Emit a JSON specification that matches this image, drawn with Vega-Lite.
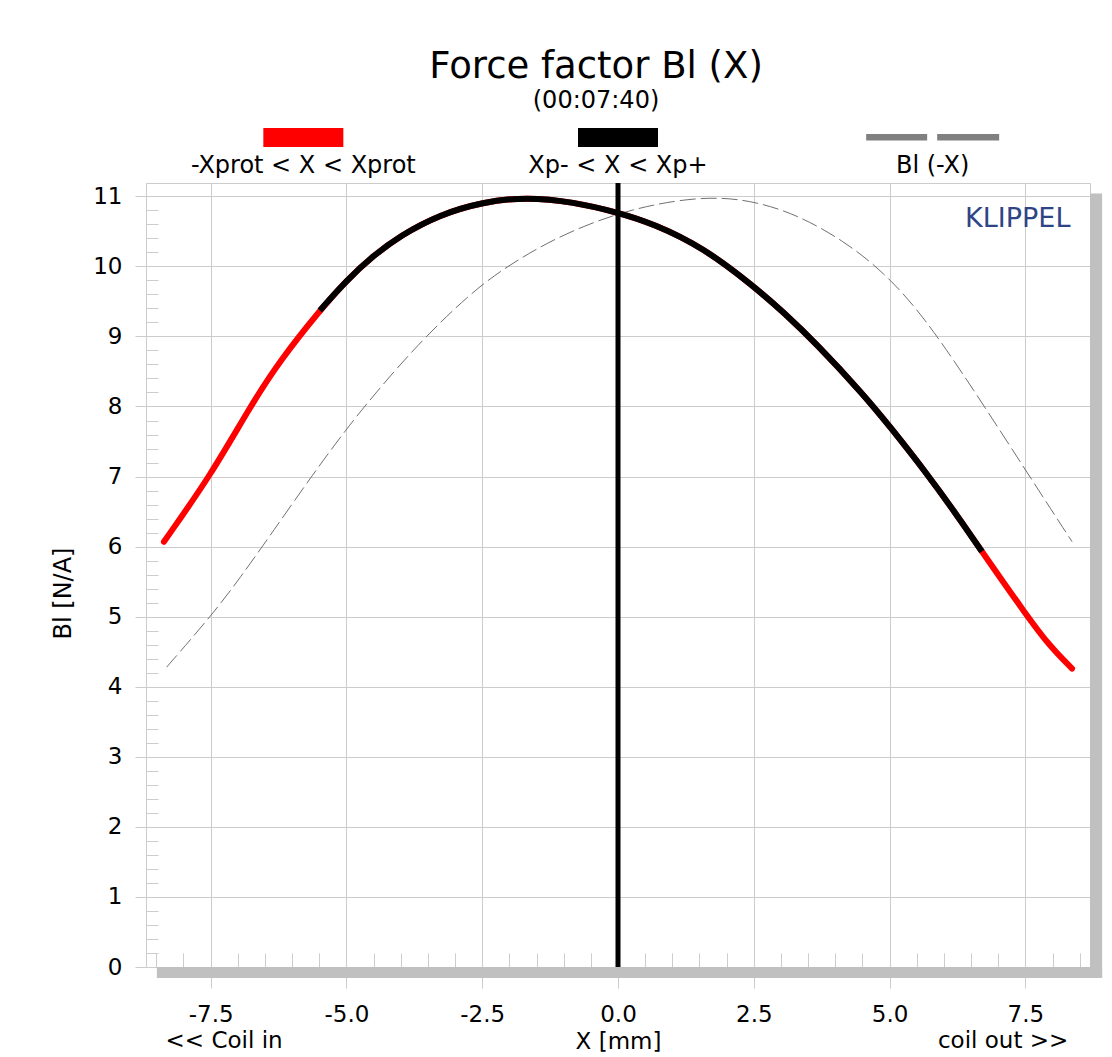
{
  "$schema": "https://vega.github.io/schema/vega-lite/v6.json",
  "autosize": {"type": "none"},
  "width": 944,
  "height": 784,
  "padding": {"left": 146, "top": 183, "right": 22, "bottom": 90},
  "background": "white",
  "title": {
    "text": "Force factor Bl (X)",
    "subtitle": "(00:07:40)",
    "frame": "group",
    "anchor": "middle",
    "dx": -22,
    "offset": 14,
    "font": "DejaVu Sans",
    "subtitleFont": "DejaVu Sans",
    "fontSize": 37,
    "subtitleFontSize": 24,
    "fontWeight": "normal",
    "color": "#000000",
    "subtitleColor": "#000000",
    "subtitlePadding": 3
  },
  "config": {
    "font": "DejaVu Sans",
    "view": {"stroke": "#cccccc", "strokeWidth": 1},
    "axis": {
      "gridColor": "#cccccc",
      "gridWidth": 1,
      "tickColor": "#cccccc",
      "tickWidth": 1,
      "domain": false,
      "labelColor": "#000000",
      "titleColor": "#000000",
      "labelFont": "DejaVu Sans",
      "titleFont": "DejaVu Sans",
      "titleFontWeight": "normal"
    }
  },
  "datasets": {
    "bl": [
      {"x": -8.36, "bl": 6.07}, {"x": -7.48, "bl": 7.04}, {"x": -6.78, "bl": 7.99},
      {"x": -6.22, "bl": 8.66}, {"x": -5.49, "bl": 9.37}, {"x": -5.0, "bl": 9.80},
      {"x": -4.51, "bl": 10.15}, {"x": -4.01, "bl": 10.44}, {"x": -3.28, "bl": 10.74},
      {"x": -2.49, "bl": 10.92}, {"x": -1.68, "bl": 10.99}, {"x": -0.82, "bl": 10.92},
      {"x": 0.0, "bl": 10.77}, {"x": 0.65, "bl": 10.61}, {"x": 1.57, "bl": 10.27},
      {"x": 2.51, "bl": 9.71}, {"x": 3.04, "bl": 9.35}, {"x": 3.66, "bl": 8.89},
      {"x": 4.52, "bl": 8.17}, {"x": 5.0, "bl": 7.72}, {"x": 5.68, "bl": 7.05},
      {"x": 6.24, "bl": 6.45}, {"x": 6.70, "bl": 5.93}, {"x": 7.53, "bl": 5.01},
      {"x": 7.96, "bl": 4.57}, {"x": 8.36, "bl": 4.26}
    ],
    "blneg": [
      {"x": -8.31, "bl": 4.28}, {"x": -7.48, "bl": 5.02}, {"x": -6.96, "bl": 5.55},
      {"x": -6.35, "bl": 6.22}, {"x": -5.61, "bl": 7.04}, {"x": -5.0, "bl": 7.68},
      {"x": -4.51, "bl": 8.15}, {"x": -3.71, "bl": 8.87}, {"x": -2.73, "bl": 9.61},
      {"x": -2.05, "bl": 10.0}, {"x": -1.13, "bl": 10.42}, {"x": 0.0, "bl": 10.77},
      {"x": 1.08, "bl": 10.95}, {"x": 1.88, "bl": 10.99}, {"x": 2.55, "bl": 10.92},
      {"x": 3.29, "bl": 10.74}, {"x": 4.15, "bl": 10.37}, {"x": 4.89, "bl": 9.92},
      {"x": 5.62, "bl": 9.30}, {"x": 6.54, "bl": 8.25}, {"x": 7.53, "bl": 7.06},
      {"x": 8.36, "bl": 6.07}
    ],
    "legend": [
      {"label": "-Xprot < X < Xprot"},
      {"label": "Xp- < X < Xp+"},
      {"label": "Bl (-X)"}
    ],
    "one": [{}]
  },
  "layer": [
    {
      "data": {"name": "blneg"},
      "mark": {"type": "line", "color": "#707070", "strokeWidth": 1, "strokeDash": [16, 5], "interpolate": "basis"},
      "encoding": {
        "x": {
          "field": "x", "type": "quantitative",
          "scale": {"domain": [-8.69, 8.69], "nice": false, "zero": false},
          "axis": {
            "orient": "bottom", "title": null, "labels": false, "grid": false, "domain": false,
            "tickSize": -14,
            "values": [-8.5, -8, -7, -6.5, -6, -5.5, -4.5, -4, -3.5, -3, -2, -1.5, -1, -0.5, 0.5, 1, 1.5, 2, 3, 3.5, 4, 4.5, 5.5, 6, 6.5, 7, 8, 8.5]
          }
        },
        "y": {
          "field": "bl", "type": "quantitative",
          "scale": {"domain": [0, 11.19], "nice": false, "zero": false},
          "axis": {
            "orient": "left", "title": null, "labels": false, "grid": false, "domain": false,
            "tickSize": -12,
            "values": [0.2, 0.4, 0.6, 0.8, 1.2, 1.4, 1.6, 1.8, 2.2, 2.4, 2.6, 2.8, 3.2, 3.4, 3.6, 3.8, 4.2, 4.4, 4.6, 4.8, 5.2, 5.4, 5.6, 5.8, 6.2, 6.4, 6.6, 6.8, 7.2, 7.4, 7.6, 7.8, 8.2, 8.4, 8.6, 8.8, 9.2, 9.4, 9.6, 9.8, 10.2, 10.4, 10.6, 10.8]
          }
        }
      }
    },
    {
      "data": {"name": "bl"},
      "mark": {"type": "line", "color": "#ff0000", "strokeWidth": 6, "strokeCap": "round", "interpolate": "basis"},
      "encoding": {
        "x": {
          "field": "x", "type": "quantitative",
          "scale": {"domain": [-8.69, 8.69], "nice": false, "zero": false},
          "axis": {
            "orient": "bottom", "grid": true, "ticks": true, "tickSize": 21,
            "values": [-7.5, -5, -2.5, 0, 2.5, 5, 7.5],
            "labelExpr": "(datum.value < 0 ? '-' : '') + format(abs(datum.value), '.1f')",
            "labelFontSize": 23, "labelPadding": 15,
            "title": "X [mm]", "titleFontSize": 23, "titleBaseline": "alphabetic", "titleY": 81
          }
        },
        "y": {
          "field": "bl", "type": "quantitative",
          "scale": {"domain": [0, 11.19], "nice": false, "zero": false},
          "axis": {
            "orient": "left", "grid": true, "ticks": true, "tickSize": 11,
            "values": [0, 1, 2, 3, 4, 5, 6, 7, 8, 9, 10, 11],
            "labelFontSize": 23, "labelPadding": 13,
            "title": "Bl [N/A]", "titleFontSize": 24, "titleAngle": 270,
            "titleBaseline": "alphabetic", "titleAlign": "center", "titleX": -76, "titleY": 410
          }
        }
      }
    },
    {
      "layer": [
        {
          "data": {"name": "bl"},
          "transform": [{"filter": "datum.x >= -5.49 && datum.x <= 6.70"}],
          "mark": {"type": "line", "color": "#000000", "strokeWidth": 6, "interpolate": "basis"},
          "encoding": {
            "x": {"field": "x", "type": "quantitative", "scale": {"domain": [-8.69, 8.69], "nice": false, "zero": false}, "axis": null},
            "y": {"field": "bl", "type": "quantitative", "scale": {"domain": [0, 11.19], "nice": false, "zero": false}, "axis": null}
          }
        },
        {
          "data": {"name": "one"},
          "mark": {"type": "rule", "color": "#000000", "strokeWidth": 5},
          "encoding": {
            "x": {"datum": 0, "type": "quantitative", "scale": {"domain": [-8.69, 8.69], "nice": false, "zero": false}, "axis": null}
          }
        },
        {
          "data": {"name": "one"},
          "mark": {"type": "rect", "color": "#c0c0c0"},
          "encoding": {
            "x": {"datum": -8.49, "type": "quantitative", "scale": {"domain": [-8.69, 8.69], "nice": false, "zero": false}, "axis": null},
            "x2": {"datum": 8.913},
            "y": {"datum": -0.157, "type": "quantitative", "scale": {"domain": [0, 11.19], "nice": false, "zero": false}, "axis": null},
            "y2": {"datum": 0}
          }
        },
        {
          "data": {"name": "one"},
          "mark": {"type": "rect", "color": "#c0c0c0"},
          "encoding": {
            "x": {"datum": 8.69, "type": "quantitative", "scale": {"domain": [-8.69, 8.69], "nice": false, "zero": false}, "axis": null},
            "x2": {"datum": 8.913},
            "y": {"datum": -0.157, "type": "quantitative", "scale": {"domain": [0, 11.19], "nice": false, "zero": false}, "axis": null},
            "y2": {"datum": 11.04}
          }
        },
        {
          "data": {"name": "one"},
          "mark": {"type": "text", "text": "KLIPPEL", "fontSize": 27, "color": "#2e4486", "align": "right", "baseline": "alphabetic"},
          "encoding": {
            "x": {"datum": 8.33, "type": "quantitative", "scale": {"domain": [-8.69, 8.69], "nice": false, "zero": false}, "axis": null},
            "y": {"datum": 10.567, "type": "quantitative", "scale": {"domain": [0, 11.19], "nice": false, "zero": false}, "axis": null}
          }
        },
        {
          "data": {"name": "one"},
          "mark": {"type": "text", "text": "<< Coil in", "fontSize": 23, "color": "#000000", "align": "left", "baseline": "alphabetic"},
          "encoding": {
            "x": {"datum": -8.33, "type": "quantitative", "scale": {"domain": [-8.69, 8.69], "nice": false, "zero": false}, "axis": null},
            "y": {"datum": -1.163, "type": "quantitative", "scale": {"domain": [0, 11.19], "nice": false, "zero": false}, "axis": null}
          }
        },
        {
          "data": {"name": "one"},
          "mark": {"type": "text", "text": "coil out >>", "fontSize": 23, "color": "#000000", "align": "right", "baseline": "alphabetic"},
          "encoding": {
            "x": {"datum": 8.29, "type": "quantitative", "scale": {"domain": [-8.69, 8.69], "nice": false, "zero": false}, "axis": null},
            "y": {"datum": -1.163, "type": "quantitative", "scale": {"domain": [0, 11.19], "nice": false, "zero": false}, "axis": null}
          }
        }
      ]
    },
    {
      "data": {"name": "legend"},
      "encoding": {
        "x": {
          "field": "label", "type": "nominal",
          "scale": {"type": "point", "padding": 0.5, "domain": ["-Xprot < X < Xprot", "Xp- < X < Xp+", "Bl (-X)"]},
          "axis": null
        }
      },
      "layer": [
        {
          "mark": {"type": "text", "fontSize": 24, "color": "#000000", "align": "center", "baseline": "alphabetic"},
          "encoding": {
            "y": {"datum": 11.33, "type": "quantitative", "scale": {"domain": [0, 11.19], "nice": false, "zero": false}, "axis": null},
            "text": {"field": "label"}
          }
        },
        {
          "transform": [{"filter": "datum.label == '-Xprot < X < Xprot'"}],
          "mark": {"type": "point", "shape": "M-1,-0.2375H1V0.2375H-1Z", "size": 6400, "filled": true, "opacity": 1, "color": "#ff0000"},
          "encoding": {
            "y": {"datum": 11.84, "type": "quantitative", "scale": {"domain": [0, 11.19], "nice": false, "zero": false}, "axis": null}
          }
        },
        {
          "transform": [{"filter": "datum.label == 'Xp- < X < Xp+'"}],
          "mark": {"type": "point", "shape": "M-1,-0.2375H1V0.2375H-1Z", "size": 6400, "filled": true, "opacity": 1, "color": "#000000"},
          "encoding": {
            "y": {"datum": 11.84, "type": "quantitative", "scale": {"domain": [0, 11.19], "nice": false, "zero": false}, "axis": null}
          }
        },
        {
          "transform": [{"filter": "datum.label == 'Bl (-X)'"}],
          "mark": {"type": "point", "shape": "M-1,-0.049H-0.083V0.049H-1Z M0.068,-0.049H1V0.049H0.068Z", "size": 17689, "filled": true, "opacity": 1, "color": "#808080"},
          "encoding": {
            "y": {"datum": 11.843, "type": "quantitative", "scale": {"domain": [0, 11.19], "nice": false, "zero": false}, "axis": null}
          }
        }
      ]
    }
  ],
  "resolve": {"scale": {"x": "independent"}, "axis": {"x": "independent", "y": "independent"}}
}
